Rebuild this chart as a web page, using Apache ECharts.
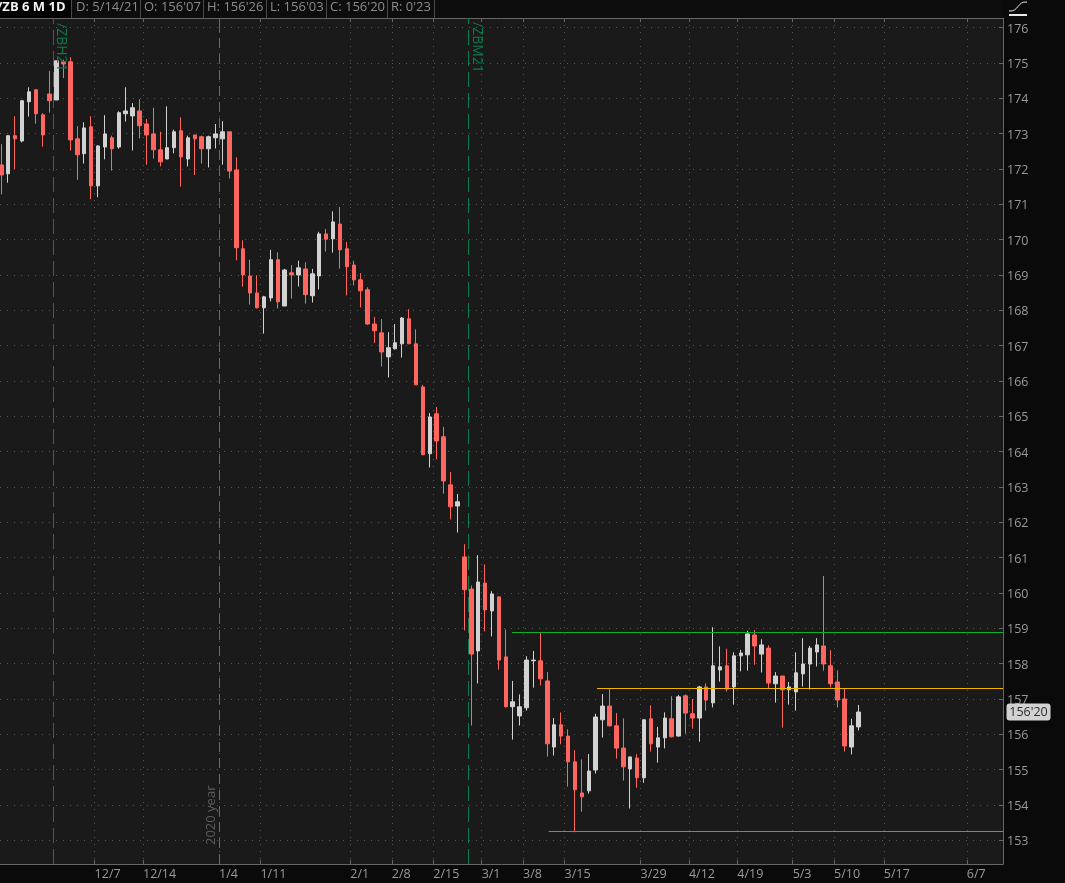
<!DOCTYPE html>
<html>
<head>
<meta charset="utf-8">
<title>/ZB 6 M 1D</title>
<script src="https://cdn.jsdelivr.net/npm/echarts@6/dist/echarts.min.js"></script>
<style>
html, body { margin: 0; padding: 0; background: #0a0a0a; }
#main { width: 1065px; height: 883px; }
</style>
</head>
<body>
<div id="main"></div>
<script>
// daily bars, oldest first
const opens = [
  172.11,171.86,172.94,172.79,173.90,174.24,173.53,174.12,173.95,175.03,
  175.03,172.85,172.43,173.19,171.52,172.62,172.88,172.62,173.56,173.50,
  173.64,173.27,172.99,172.54,172.28,172.60,173.08,172.28,172.96,172.91,
  172.57,172.88,172.85,173.05,171.97,169.74,168.97,168.49,168.07,168.35,
  169.43,168.12,169.06,169.00,169.17,168.41,168.97,170.16,170.02,170.44,
  169.74,169.28,168.86,168.58,167.61,167.36,166.68,166.91,167.05,167.76,
  167.05,165.83,163.94,165.07,164.42,163.06,162.46,161.02,160.11,158.36,
  160.28,159.49,159.89,158.19,156.78,156.52,156.75,158.08,158.08,157.51,
  155.64,156.27,155.95,155.22,154.34,154.40,154.99,156.41,156.80,156.24,
  155.61,155.02,155.33,154.77,156.44,155.64,155.90,156.44,155.95,157.09,
  156.58,156.46,157.34,156.89,157.82,157.94,157.34,158.22,158.25,158.81,
  158.27,158.44,157.43,157.65,157.26,157.20,157.71,157.99,158.33,158.50,
  157.94,157.48,157.00,155.64,156.21
];
const closes = [
  171.83,172.94,172.85,173.93,174.18,173.56,172.96,173.93,175.06,174.97,
  172.82,172.40,173.16,171.52,172.65,172.99,172.57,173.59,173.64,173.73,
  173.22,172.96,172.54,172.20,172.60,173.05,172.34,172.88,172.85,172.57,
  172.91,172.99,173.05,171.94,169.77,169.00,168.49,168.07,168.38,169.43,
  168.24,169.14,169.00,169.20,168.44,169.03,170.16,170.01,170.50,169.71,
  169.23,168.86,168.55,167.61,167.42,166.82,166.94,167.08,167.78,167.05,
  165.89,163.91,164.98,164.30,163.17,162.44,162.58,160.09,158.27,160.31,
  159.52,159.97,158.10,156.78,156.92,156.78,158.10,158.10,157.57,155.73,
  156.27,155.95,155.22,154.43,154.23,154.96,156.49,156.80,156.24,155.61,
  155.08,155.36,154.77,156.41,155.73,155.90,156.46,155.93,157.06,156.60,
  156.46,157.34,156.97,157.94,157.91,157.28,158.22,158.30,158.84,158.50,
  158.53,157.45,157.65,157.26,157.34,157.74,157.99,158.44,158.53,157.99,
  157.43,156.97,155.67,156.24,156.63
];
const lows = [
  171.28,171.61,171.99,172.75,173.48,173.28,172.63,173.59,173.95,174.57,
  172.52,171.69,172.15,171.14,171.20,172.27,171.95,172.57,173.34,172.52,
  172.86,172.12,172.29,172.07,172.28,172.44,171.50,172.07,171.83,172.15,
  172.04,172.58,172.12,171.73,169.41,168.67,168.16,168.05,167.34,168.25,
  168.05,168.12,168.33,168.67,168.19,168.22,168.59,169.66,169.63,169.18,
  168.42,168.70,168.08,167.59,167.07,166.41,166.10,166.89,166.66,167.05,
  165.89,163.91,163.55,163.78,162.81,162.08,161.71,158.94,156.25,157.44,
  158.91,158.77,157.83,156.76,155.85,156.25,156.67,157.32,157.38,155.37,
  155.40,155.72,154.52,153.23,153.81,154.32,154.89,155.91,156.22,155.31,
  154.69,153.90,154.49,154.63,155.51,155.20,155.60,155.91,155.94,156.02,
  156.16,155.79,156.67,156.76,157.49,157.21,156.84,157.78,157.80,157.97,
  157.75,157.30,156.90,156.19,156.84,156.67,157.35,157.27,157.92,157.80,
  157.33,156.76,155.51,155.43,156.11
];
const highs = [
  172.70,172.94,173.49,173.93,174.31,174.24,173.58,174.77,175.06,175.09,
  175.16,173.21,173.32,173.49,172.67,173.52,172.94,173.63,174.31,173.86,
  173.97,173.41,173.73,173.05,173.77,173.11,173.46,172.94,172.96,172.94,
  172.94,173.27,173.35,173.05,172.33,169.98,169.43,168.99,168.41,169.71,
  169.64,169.17,169.28,169.40,169.36,169.17,170.22,170.30,170.80,170.92,
  169.93,169.40,169.05,168.65,167.81,167.75,167.38,167.61,167.81,168.03,
  167.46,165.89,165.09,165.26,164.70,163.42,162.80,161.38,160.21,161.07,
  160.81,160.05,159.89,158.97,157.51,157.13,158.21,158.36,158.89,157.76,
  156.46,156.62,156.14,155.55,155.29,155.44,156.58,157.14,157.28,156.60,
  156.45,155.37,155.44,156.43,156.82,156.21,156.62,157.08,157.11,157.13,
  157.00,157.37,157.44,159.03,158.49,158.42,158.32,158.39,158.93,158.95,
  158.69,158.52,157.76,157.65,157.48,158.32,158.72,158.50,158.72,160.48,
  158.38,157.81,157.30,156.44,156.83
];

// x axis runs on bar number, date ticks sit on the gap before a bar
const dateTicks = [13.5,20.5,31.5,37.5,50.5,56.5,62.5,69.5,75.5,81.5,92.5,99.5,106.5,114.5,120.5,127.7,139.7];
const dateLabels = ['12/7','12/14','1/4','1/11','2/1','2/8','2/15','3/1','3/8','3/15','3/29','4/12','4/19','5/3','5/10','5/17','6/7'];
const priceTicks = [153,154,155,156,157,158,159,160,161,162,163,164,165,166,167,168,169,170,171,172,173,174,175,176];

// drawn levels: price, and the bar number they start from
const levelPrices = [158.89, 157.30, 153.26];
const levelStarts = [73.9, 86.2, 79.2];
const levelColors = ['#0fae2a', '#f2b500', '#e25a4c'];

// expiry and year marks
const expiryBars = [7.5, 67.5];
const yearBars = [31.5];

const xMin = -0.19, xMax = 144.94;
const yMin = 152.33, yMax = 176.27;

const green = '#0a7d4d';
const headerCells = [
  { text: "D: 5/14/21", x: 76 },
  { text: "O: 156'07", x: 144 },
  { text: "H: 156'26", x: 207 },
  { text: "L: 156'03", x: 270 },
  { text: "C: 156'20", x: 330 },
  { text: "R: 0'23", x: 391 }
];
const headerSeps = [71.5, 140.5, 203.5, 266.5, 326.5, 387.5, 434.5];

const chart = echarts.init(document.getElementById('main'));

const graphics = [
  { type: 'rect', shape: { x: 0, y: 0, width: 1003, height: 18 }, style: { fill: '#0d0d0d' }, z: 20 },
  { type: 'rect', shape: { x: 0, y: 0, width: 71, height: 18 }, style: { fill: '#000' }, z: 20 },
  { type: 'text', x: -3, y: 1, z: 21, style: { text: '/ZB 6 M 1D', fill: '#f2f2f2', font: 'bold 13px "Open Sans"' } },
  // curve button top right
  { type: 'bezierCurve', z: 21, shape: { x1: 1009, y1: 11, cpx1: 1019, cpy1: 12, cpx2: 1017, cpy2: 1, x2: 1027, y2: 2 }, style: { stroke: '#e8e8e8', fill: null, lineWidth: 1 } },
  { type: 'rect', z: 21, shape: { x: 1009, y: 14, width: 18, height: 2 }, style: { fill: '#e8e8e8' } },
  // rotated notes
  { type: 'text', x: 68, y: 23, rotation: -Math.PI / 2, z: 21, style: { text: '/ZBH21', fill: green, font: '14px "Open Sans"' } },
  { type: 'text', x: 484, y: 22, rotation: -Math.PI / 2, z: 21, style: { text: '/ZBM21', fill: green, font: '14px "Open Sans"' } },
  { type: 'text', x: 205, y: 845, rotation: Math.PI / 2, z: 21, style: { text: '2020 year', fill: '#5c5c5c', font: '13px "Open Sans"' } },
  // last price tag
  { type: 'rect', z: 21, shape: { x: 1006.5, y: 703.5, width: 44, height: 17, r: 3 }, style: { fill: '#d2d2d2' } },
  { type: 'text', x: 1028.5, y: 712, z: 22, style: { text: "156'20", fill: '#2c2c2c', font: '12.5px "Open Sans"', align: 'center', verticalAlign: 'middle' } }
];
headerCells.forEach(function (c) {
  graphics.push({ type: 'text', x: c.x, y: 1, z: 21, style: { text: c.text, fill: '#8c8c8c', font: '13px "Open Sans"' } });
});
headerSeps.forEach(function (x) {
  graphics.push({ type: 'line', z: 21, shape: { x1: x, y1: 0, x2: x, y2: 18 }, style: { stroke: '#4a4a4a', lineWidth: 1 } });
});

const gridDots = { color: '#565656', width: 1, type: [1, 6] };

function dateAxis(position) {
  return {
    type: 'value',
    position: position,
    min: xMin,
    max: xMax,
    axisLine: { show: true, lineStyle: { color: '#666' } },
    axisTick: { show: true, inside: true, length: 4, customValues: dateTicks, lineStyle: { color: '#666' } },
    splitLine: { show: position === 'bottom', customValues: dateTicks, lineStyle: gridDots },
    axisLabel: {
      show: position === 'bottom',
      customValues: dateTicks,
      align: 'left',
      margin: 4,
      color: '#9a9a9a',
      fontFamily: 'Open Sans',
      fontSize: 12.5,
      formatter: function (v) { return dateLabels[dateTicks.indexOf(v)]; }
    }
  };
}

const markLines = [];
expiryBars.forEach(function (b) {
  markLines.push({ xAxis: b, lineStyle: { color: green, width: 1, type: [15, 6] } });
});
yearBars.forEach(function (b) {
  markLines.push({ xAxis: b, lineStyle: { color: '#6a6a6a', width: 1, type: [10, 6] } });
});
levelPrices.forEach(function (p, i) {
  markLines.push([
    { coord: [levelStarts[i], p], lineStyle: { color: levelColors[i], width: 1, type: 'solid' } },
    { coord: [xMax, p] }
  ]);
});

chart.setOption({
  animation: false,
  backgroundColor: '#0a0a0a',
  grid: { left: 0, right: 62, top: 18, bottom: 19, show: true, backgroundColor: '#1a1a1a', borderWidth: 0 },
  xAxis: [dateAxis('bottom'), dateAxis('top')],
  yAxis: {
    type: 'value',
    position: 'right',
    min: yMin,
    max: yMax,
    axisLine: { show: true, onZero: false, lineStyle: { color: '#666' } },
    axisTick: { show: true, inside: true, length: 4, customValues: priceTicks, lineStyle: { color: '#666' } },
    splitLine: { show: true, customValues: priceTicks, lineStyle: gridDots },
    axisLabel: { customValues: priceTicks, margin: 4, verticalAlign: 'top', lineHeight: 3, color: '#9a9a9a', fontFamily: 'Open Sans', fontSize: 12.5 }
  },
  series: [{
    type: 'candlestick',
    xAxisIndex: 0,
    barWidth: 4,
    encode: { x: 0, y: [1, 2, 3, 4] },
    data: opens.map(function (o, i) { return [i, o, closes[i], lows[i], highs[i]]; }),
    itemStyle: {
      color: '#d2d2d2',
      color0: '#ff6660',
      borderColor: '#d2d2d2',
      borderColor0: '#ff6660',
      borderWidth: 1
    },
    markLine: { silent: true, animation: false, symbol: 'none', label: { show: false }, data: markLines }
  }],
  graphic: graphics
});
</script>
</body>
</html>
